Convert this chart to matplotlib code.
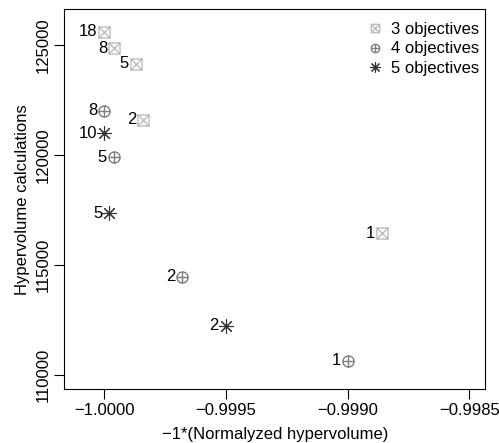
import numpy as np
import matplotlib
matplotlib.use("Agg")
import matplotlib.pyplot as plt
from matplotlib.path import Path

plt.rcParams['font.family'] = ['Liberation Sans', 'DejaVu Sans']

# --- Data ---
hv3 = [-1.0000, -0.99996, -0.99987, -0.99984, -0.99886]
calc3 = [125600, 124850, 124140, 121590, 116450]
lab3 = ["18", "8", "5", "2", "1"]

hv4 = [-1.0000, -0.99996, -0.99968, -0.99900]
calc4 = [122000, 119900, 114470, 110640]
lab4 = ["8", "5", "2", "1"]

hv5 = [-1.0000, -0.99998, -0.99950]
calc5 = [120990, 117360, 112230]
lab5 = ["10", "5", "2"]

# --- Custom markers (R pch 7 / 10) ---
sq = Path([(-1, -1), (1, -1), (1, 1), (-1, 1), (-1, -1)],
          [Path.MOVETO, Path.LINETO, Path.LINETO, Path.LINETO, Path.CLOSEPOLY])
diag = Path([(-1, -1), (1, 1), (-1, 1), (1, -1)],
            [Path.MOVETO, Path.LINETO, Path.MOVETO, Path.LINETO])
box_x = Path.make_compound_path(sq, diag)

circ = Path.unit_circle()
plus = Path([(-1, 0), (1, 0), (0, -1), (0, 1)],
            [Path.MOVETO, Path.LINETO, Path.MOVETO, Path.LINETO])
circ_plus = Path.make_compound_path(circ, plus)

fig = plt.figure(figsize=(4.99, 4.43), dpi=100)
ax = fig.add_axes([0.129, 0.121, 0.843, 0.859])

series = [
    (hv3, calc3, lab3, box_x, "#bdbdbd", 8, 1.0, "3 objectives"),
    (hv4, calc4, lab4, circ_plus, "#7f7f7f", 8, 1.0, "4 objectives"),
    (hv5, calc5, lab5, (8, 2, 0), "#333333", 10.5, 0.8, "5 objectives"),
]

fs = 12
for xs, ys, labs, mk, col, ms, mw, name in series:
    ax.plot(xs, ys, linestyle="none", marker=mk, markersize=ms,
            markerfacecolor="none", markeredgecolor=col, markeredgewidth=mw,
            label=name)
    for x, y, t in zip(xs, ys, labs):
        ax.annotate(t, (x, y), xytext=(-5, 0), textcoords="offset points",
                    ha="right", va="center", fontsize=fs)

ax.set_xlim(-1.000164, -0.998435)
ax.set_ylim(109350, 126636)
ax.set_xticks([-1.0, -0.9995, -0.999, -0.9985])
ax.set_xticklabels(["\u22121.0000", "\u22120.9995", "\u22120.9990", "\u22120.9985"])
ax.set_yticks([110000, 115000, 120000, 125000])
ax.set_yticklabels(["110000", "115000", "120000", "125000"], rotation=90, va="center")
ax.tick_params(direction="out", length=7, width=0.8, labelsize=fs, pad=3)

ax.set_xlabel("\u22121*(Normalyzed hypervolume)", fontsize=fs, labelpad=6)
ax.set_ylabel("Hypervolume calculations", fontsize=fs, labelpad=4)

ax.legend(loc="upper right", bbox_to_anchor=(0.995, 0.975), frameon=False,
          fontsize=fs, markerscale=0.75, handlelength=1.0, handletextpad=0.5,
          labelspacing=0.28, borderpad=0.2, borderaxespad=0.0)

fig.savefig("out.png", dpi=100)
